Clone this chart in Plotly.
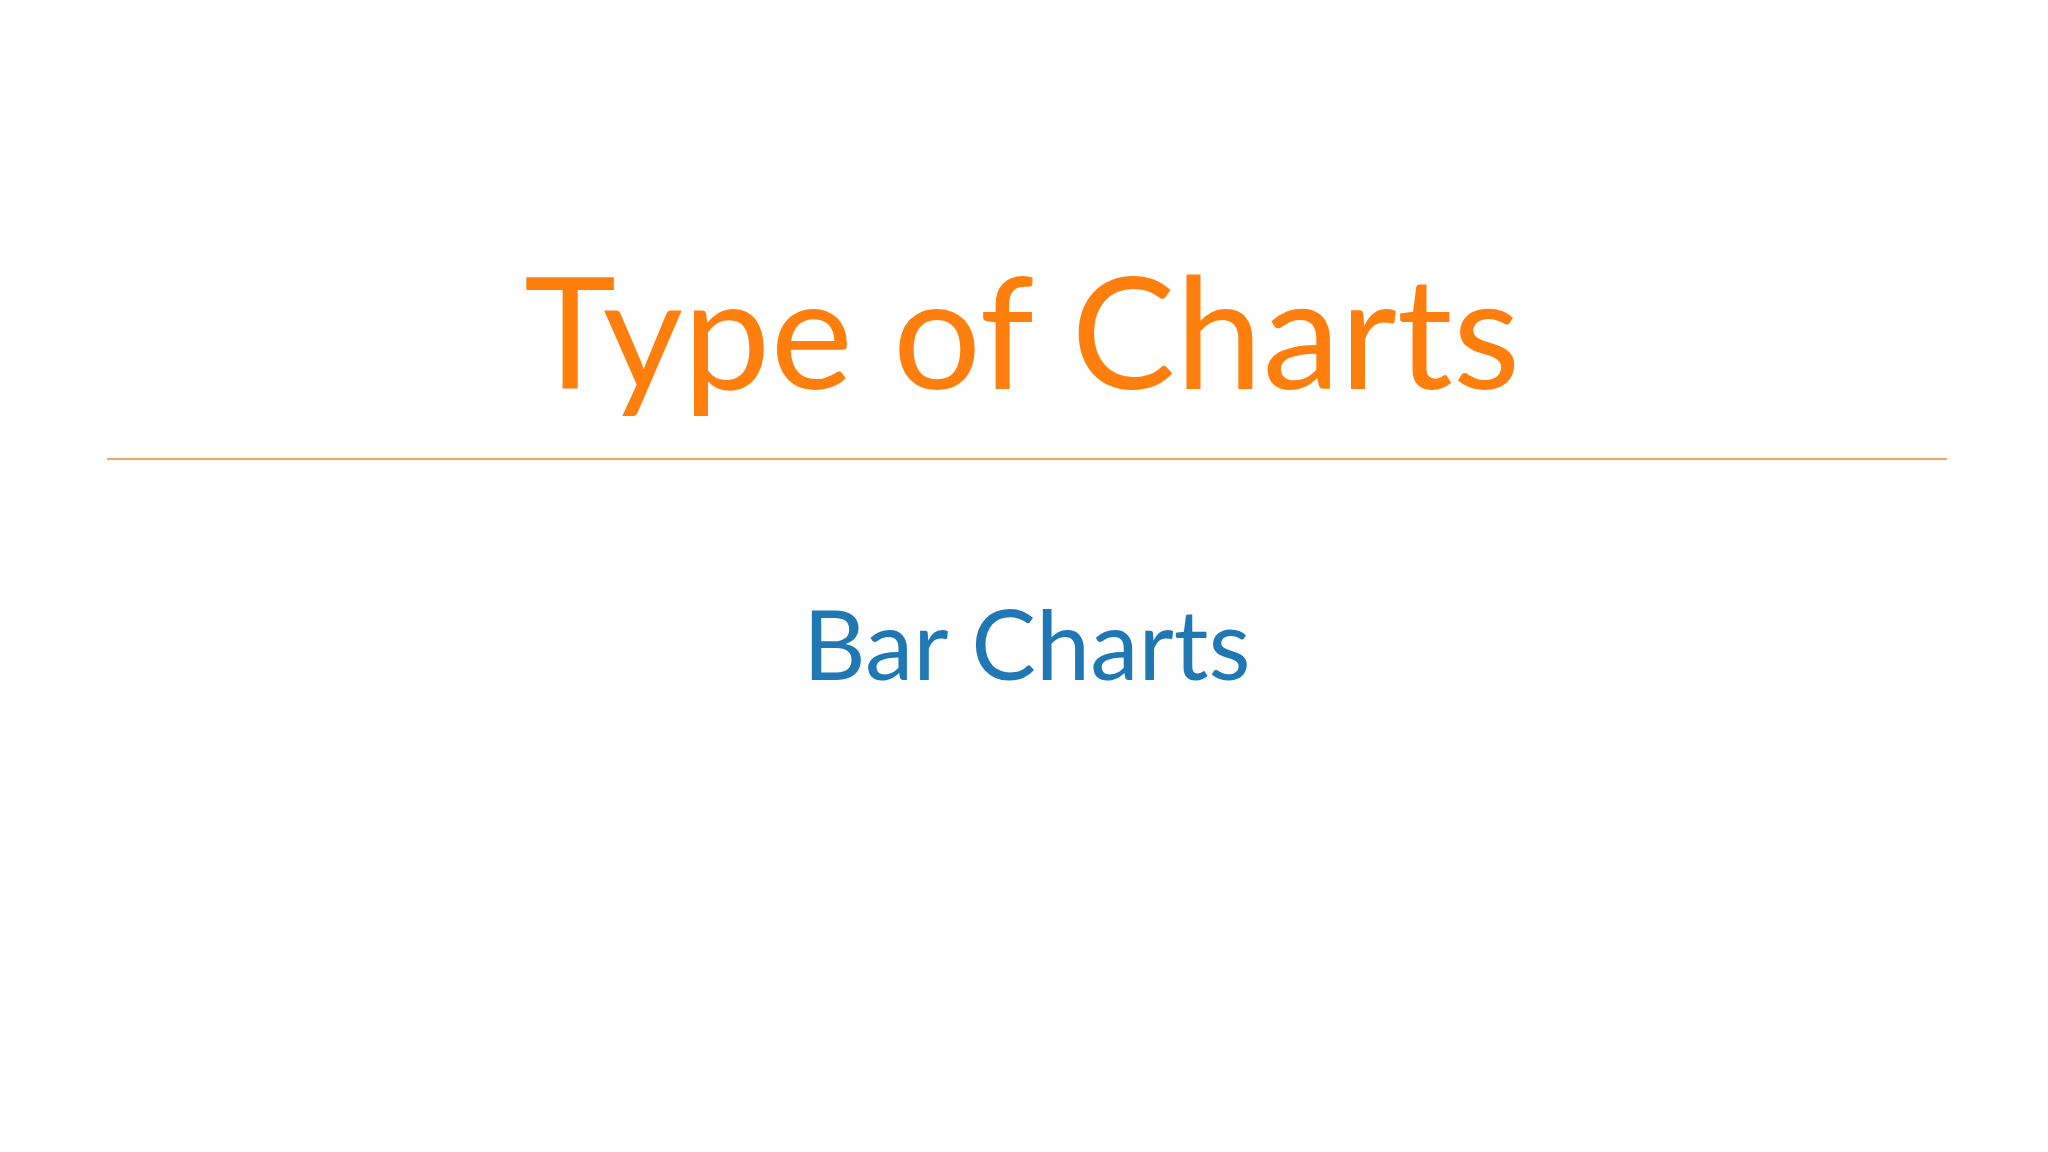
import plotly.graph_objects as go

# slide texts
title_text = "Type of Charts"
subtitle_text = "Bar Charts"

title_color = "#FF7F0E"
subtitle_color = "#1F77B4"
rule_color = "#F2A75E"

W, H = 2048, 1152


def py(pixel_y):  # pixel row -> paper y
    return 1 - pixel_y / H


def px(pixel_x):
    return pixel_x / W


fig = go.Figure()

# faint panel below the rule
fig.add_shape(type="rect", xref="paper", yref="paper",
              x0=px(89), x1=px(1952), y0=py(1152), y1=py(454),
              line=dict(width=0), fillcolor="#FEFEFE", layer="below")

# orange rule under the title
fig.add_shape(type="line", xref="paper", yref="paper",
              x0=px(99), x1=px(1939), y0=py(451), y1=py(451),
              line=dict(color=rule_color, width=2))

fig.add_annotation(text=title_text, x=px(1014), y=py(321),
                   xref="paper", yref="paper", showarrow=False,
                   xanchor="center", yanchor="middle",
                   font=dict(family="Lato", size=156, color=title_color))

fig.add_annotation(text=subtitle_text, x=px(1018), y=py(634),
                   xref="paper", yref="paper", showarrow=False,
                   xanchor="center", yanchor="middle",
                   font=dict(family="Lato", size=97, color=subtitle_color))

fig.update_layout(width=W, height=H, margin=dict(l=0, r=0, t=0, b=0),
                  paper_bgcolor="#FFFFFF", plot_bgcolor="#FFFFFF",
                  xaxis=dict(visible=False), yaxis=dict(visible=False),
                  showlegend=False)

fig.write_html("out.html")
